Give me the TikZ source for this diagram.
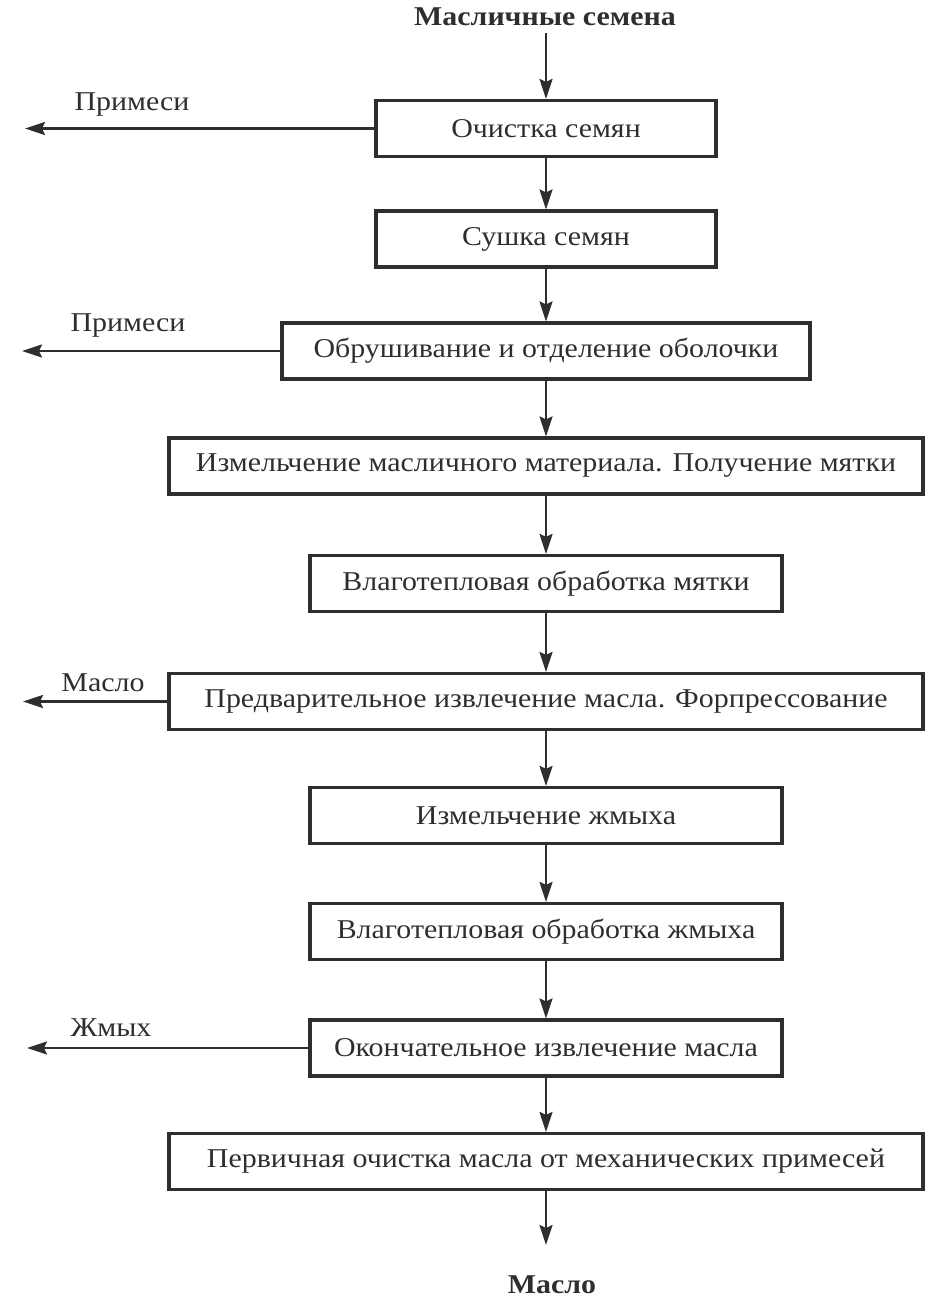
\documentclass[tikz,border=0pt]{standalone}
\usepackage{fontspec}
\setmainfont[FakeStretch=1.1]{Liberation Serif}
\usetikzlibrary{arrows.meta,positioning}

\colorlet{ink}{black!82}

\begin{document}
\begin{tikzpicture}[
    x=0.5pt, y=-0.5pt,
    % общие стили
    stage box/.style={draw=ink, text=ink, line width=1.6pt, rectangle, minimum height=28pt, inner sep=2pt, font=\fontsize{13.6}{16}\selectfont}, % рамка этапа
    side text/.style={text=ink, font=\fontsize{13.6}{16}\selectfont}, % подпись отхода
    end text/.style={text=ink, font=\fontsize{13.6}{16}\selectfont\bfseries}, % начало и конец цепочки
    % линия потока: с залитым наконечником
    flow/.style={draw=ink, line width=1.1pt, -{Stealth[length=10pt, width=6.5pt, inset=1.5pt]}}
]
    \useasboundingbox (0,0) rectangle (950,1308);

    % --- 1. Сырьё на входе ---
    \node[end text] (seeds) at (545,17) {Масличные семена};

    % --- 2. Этапы переработки (столбец по центру) ---
    \node[stage box, minimum width=170pt] (clean) at (546,128.5) {Очистка семян};
    \node[stage box, minimum width=170pt] (dry) at (546,239) {Сушка семян};
    \node[stage box, minimum width=264pt] (hull) at (546,351) {Обрушивание и отделение оболочки};
    \node[stage box, minimum width=377pt] (grind) at (546,466) {Измельчение масличного материала. Получение мятки};
    \node[stage box, minimum width=236pt] (heat1) at (546,583.5) {Влаготепловая обработка мятки};
    \node[stage box, minimum width=377pt] (press) at (546,701.5) {Предварительное извлечение масла. Форпрессование};
    \node[stage box, minimum width=236pt] (cake) at (546,815.5) {Измельчение жмыха};
    \node[stage box, minimum width=236pt] (heat2) at (546,931.5) {Влаготепловая обработка жмыха};
    \node[stage box, minimum width=236pt] (extract) at (546,1048) {Окончательное извлечение масла};
    \node[stage box, minimum width=377pt] (filter) at (546,1161.5) {Первичная очистка масла от механических примесей};

    % --- 3. Готовый продукт ---
    \node[end text] (oil) at (552,1285) {Масло};
    \coordinate (oil in) at (546,1245);

    % --- 4. Основной поток сверху вниз ---
    \draw[flow] (seeds.south -| clean.north) -- (clean.north);
    \draw[flow] (clean) -- (dry);
    \draw[flow] (dry) -- (hull);
    \draw[flow] (hull) -- (grind);
    \draw[flow] (grind) -- (heat1);
    \draw[flow] (heat1) -- (press);
    \draw[flow] (press) -- (cake);
    \draw[flow] (cake) -- (heat2);
    \draw[flow] (heat2) -- (extract);
    \draw[flow] (extract) -- (filter);
    \draw[flow] (filter) -- (oil in);

    % --- 5. Отходы и побочные продукты (влево) ---
    \node[side text] (waste1) at (132,104) {Примеси};
    \coordinate (waste1 out) at (25,128.5);
    \draw[flow] (clean.west) -- (waste1 out);

    \node[side text] (waste2) at (128,325) {Примеси};
    \coordinate (waste2 out) at (22,351);
    \draw[flow] (hull.west) -- (waste2 out);

    \node[side text] (preoil) at (103,683) {Масло};
    \coordinate (preoil out) at (23,701.5);
    \draw[flow] (press.west) -- (preoil out);

    \node[side text] (meal) at (111,1028) {Жмых};
    \coordinate (meal out) at (27,1048);
    \draw[flow] (extract.west) -- (meal out);

\end{tikzpicture}
\end{document}
